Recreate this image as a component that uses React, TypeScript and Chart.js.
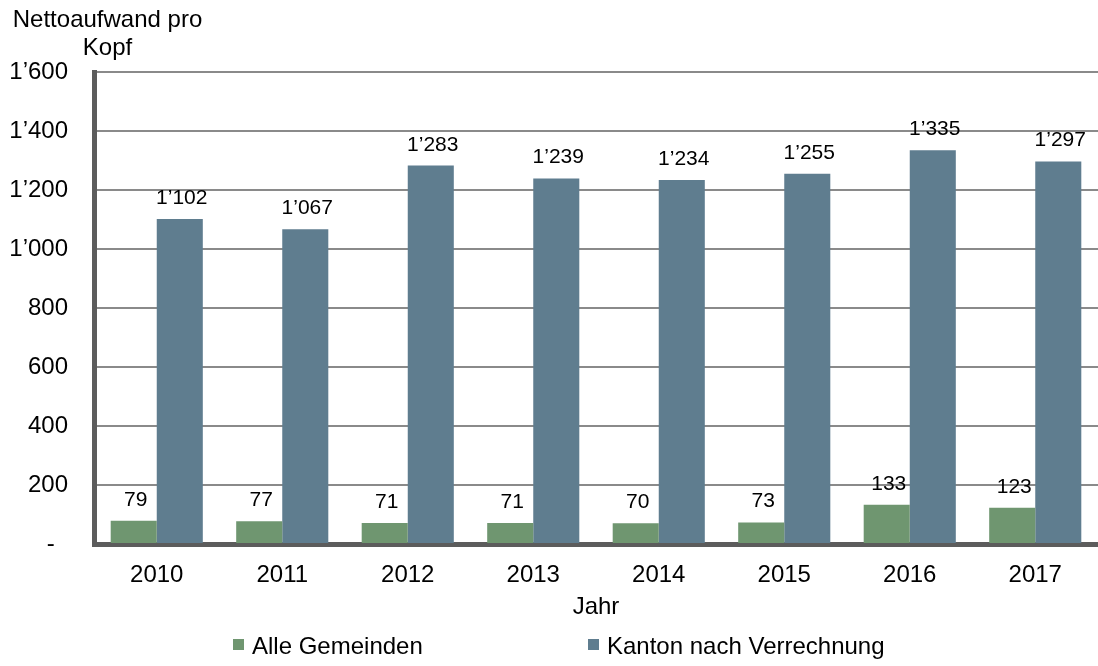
import React, { useEffect, useRef } from "react";
import { Chart, registerables } from "chart.js";

Chart.register(...registerables);

const years = ["2010", "2011", "2012", "2013", "2014", "2015", "2016", "2017"];
const gemeinden = [79, 77, 71, 71, 70, 73, 133, 123];
const kanton = [1102, 1067, 1283, 1239, 1234, 1255, 1335, 1297];
const seriesNames = ["Alle Gemeinden", "Kanton nach Verrechnung"];
const seriesColors = ["#6f9670", "#5f7d8f"];
const titleLines = ["Nettoaufwand pro", "Kopf"];
const xTitle = "Jahr";

const FONT = "'Liberation Sans', Arial, sans-serif";

function fmt(v: number): string {
  if (v === 0) return "-  ";
  const s = Math.round(v).toString();
  return s.replace(/\B(?=(\d{3})+(?!\d))/g, "\u2019");
}

const labelPlugin = {
  id: "valueLabels",
  afterDatasetsDraw(chart: any) {
    const ctx = chart.ctx;
    ctx.save();
    ctx.font = `21px ${FONT}`;
    ctx.fillStyle = "#000";
    ctx.textAlign = "center";
    ctx.textBaseline = "alphabetic";
    chart.data.datasets.forEach((ds: any, i: number) => {
      const meta = chart.getDatasetMeta(i);
      meta.data.forEach((bar: any, j: number) => {
        ctx.fillText(fmt(ds.data[j]), bar.x + 2, bar.y - 15);
      });
    });
    ctx.restore();
  },
};

const titlePlugin = {
  id: "topTitle",
  afterDraw(chart: any) {
    const ctx = chart.ctx;
    ctx.save();
    ctx.font = `24px ${FONT}`;
    ctx.fillStyle = "#000";
    ctx.textAlign = "center";
    ctx.textBaseline = "alphabetic";
    ctx.fillText(titleLines[0], 107.5, 27);
    ctx.fillText(titleLines[1], 107.5, 55);
    ctx.restore();
  },
};

const legendPlugin = {
  id: "customLegend",
  afterDraw(chart: any) {
    const ctx = chart.ctx;
    const starts = [233, 588];
    ctx.save();
    ctx.font = `24px ${FONT}`;
    ctx.textAlign = "left";
    ctx.textBaseline = "alphabetic";
    chart.data.datasets.forEach((ds: any, i: number) => {
      const x = starts[i];
      ctx.fillStyle = ds.backgroundColor;
      ctx.fillRect(x, 639, 11, 11);
      ctx.fillStyle = "#000";
      ctx.fillText(ds.label, x + 19, 654);
    });
    ctx.restore();
  },
};

export default function App() {
  const ref = useRef<HTMLCanvasElement>(null);
  useEffect(() => {
    if (!ref.current) return;
    const chart = new Chart(ref.current, {
      type: "bar",
      data: {
        labels: years,
        datasets: [
          {
            label: seriesNames[0],
            data: gemeinden,
            backgroundColor: seriesColors[0],
            barPercentage: 1,
            categoryPercentage: 0.734,
          },
          {
            label: seriesNames[1],
            data: kanton,
            backgroundColor: seriesColors[1],
            barPercentage: 1,
            categoryPercentage: 0.734,
          },
        ],
      },
      options: {
        animation: false,
        responsive: false,
        maintainAspectRatio: false,
        layout: { padding: { top: 72, right: 0, left: 0, bottom: 0 } },
        plugins: {
          legend: { display: false },
          title: { display: false },
          tooltip: { enabled: false },
        },
        scales: {
          x: {
            grid: { display: false, drawTicks: false },
            border: { display: true, width: 5, color: "#5c5c5c" },
            ticks: {
              font: { family: FONT, size: 24 },
              color: "#000",
              padding: 17,
              maxRotation: 0,
            },
            title: {
              display: true,
              text: xTitle,
              font: { family: FONT, size: 24 },
              color: "#000",
              padding: { top: 0, bottom: 44 },
            },
            afterFit(scale: any) {
              scale.height = 122;
            },
          },
          y: {
            min: 0,
            max: 1600,
            ticks: {
              stepSize: 200,
              font: { family: FONT, size: 24 },
              color: "#000",
              padding: 26,
              callback: (v: any) => fmt(Number(v)),
            },
            grid: { color: "#8a8a8a", lineWidth: 2, drawTicks: false },
            border: { display: true, width: 5, color: "#5c5c5c" },
            afterFit(scale: any) {
              scale.width = 94;
            },
          },
        },
      },
      plugins: [labelPlugin, titlePlugin, legendPlugin],
    });
    return () => chart.destroy();
  }, []);
  return (
    <div style={{ position: "fixed", left: 0, top: 0, width: 1098, height: 666, background: "#fff" }}>
      <canvas ref={ref} width={1098} height={666} style={{ width: 1098, height: 666, display: "block" }} />
    </div>
  );
}
